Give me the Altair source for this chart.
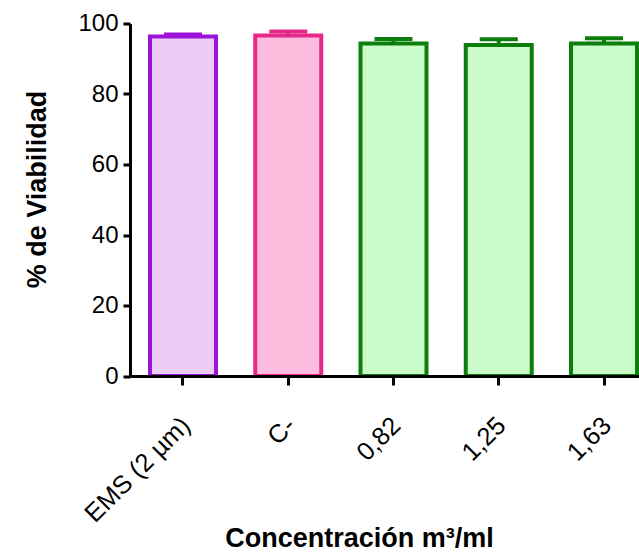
import altair as alt
import pandas as pd

# ---- data ----
categories = ["EMS (2 µm)", "C-", "0,82", "1,25", "1,63"]
viability = [96.3, 96.6, 94.3, 93.9, 94.3]
sem = [0.6, 1.1, 1.3, 1.6, 1.5]
y_ticks = [0, 20, 40, 60, 80, 100]

# ---- styles ----
fill_colors = ["#EDCCF8", "#FDBBDD", "#C9FCC8", "#C9FCC8", "#C9FCC8"]
stroke_colors = ["#9B14D8", "#E6288C", "#0C7E0C", "#0C7E0C", "#0C7E0C"]
FONT = "Liberation Sans"

df = pd.DataFrame({"cat": categories, "v": viability, "e": sem})
df["hi"] = df["v"] + df["e"]

x_enc = alt.X(
    "cat:N",
    sort=categories,
    scale=alt.Scale(range=[0, 527], paddingInner=0.373, paddingOuter=0.19),
    axis=alt.Axis(
        title="Concentración m³/ml",
        labelAngle=-45,
        labelAlign="right",
        labelBaseline="middle",
        labelFontSize=25.5,
        labelFont=FONT,
        labelColor="black",
        labelPadding=36,
        labelOffset=3,
        labelOverlap=False,
        tickSize=9,
        tickWidth=3,
        tickColor="black",
        domainColor="black",
        domainWidth=3,
        titleFont=FONT,
        titleFontSize=27,
        titleFontWeight="bold",
        titleColor="black",
        titleX=229,
        titleY=170,
        titleAlign="center",
        titleBaseline="alphabetic",
        grid=False,
        zindex=1,
    ),
)

y_scale = alt.Scale(domain=[0, 100], nice=False)
y_axis = alt.Axis(
    title="% de Viabilidad",
    values=y_ticks,
    labelFontSize=24,
    labelFont=FONT,
    labelColor="black",
    labelPadding=5,
    tickSize=7,
    tickWidth=3,
    tickColor="black",
    domainColor="black",
    domainWidth=3,
    titleFont=FONT,
    titleFontSize=27,
    titleFontWeight="bold",
    titleColor="black",
    titleAngle=270,
    titleX=-93,
    titleY=165.5,
    titleAlign="center",
    titleBaseline="middle",
    grid=False,
    zindex=1,
)

base = alt.Chart(df)

bars = base.mark_bar(strokeWidth=4, opacity=1).encode(
    x=x_enc,
    y=alt.Y("v:Q", scale=y_scale, axis=y_axis),
    fill=alt.Fill("cat:N", scale=alt.Scale(domain=categories, range=fill_colors), legend=None),
    stroke=alt.Stroke("cat:N", scale=alt.Scale(domain=categories, range=stroke_colors), legend=None),
)

err = base.mark_rule(strokeWidth=4, opacity=1).encode(
    x=alt.X("cat:N", sort=categories),
    y=alt.Y("v:Q"),
    y2="hi:Q",
    color=alt.Color("cat:N", scale=alt.Scale(domain=categories, range=stroke_colors), legend=None),
)

caps = base.mark_tick(thickness=4, size=38, opacity=1).encode(
    x=alt.X("cat:N", sort=categories),
    y=alt.Y("hi:Q"),
    color=alt.Color("cat:N", scale=alt.Scale(domain=categories, range=stroke_colors), legend=None),
)

chart = (
    alt.layer(bars, err, caps)
    .properties(
        width=509,
        height=352.5,
        autosize=alt.AutoSizeParams(type="none"),
        padding={"left": 130, "top": 23.5, "right": 0, "bottom": 181},
        background="white",
    )
    .configure_view(stroke=None)
)

chart.save("out.html", embed_options={"renderer": "svg", "actions": False})
